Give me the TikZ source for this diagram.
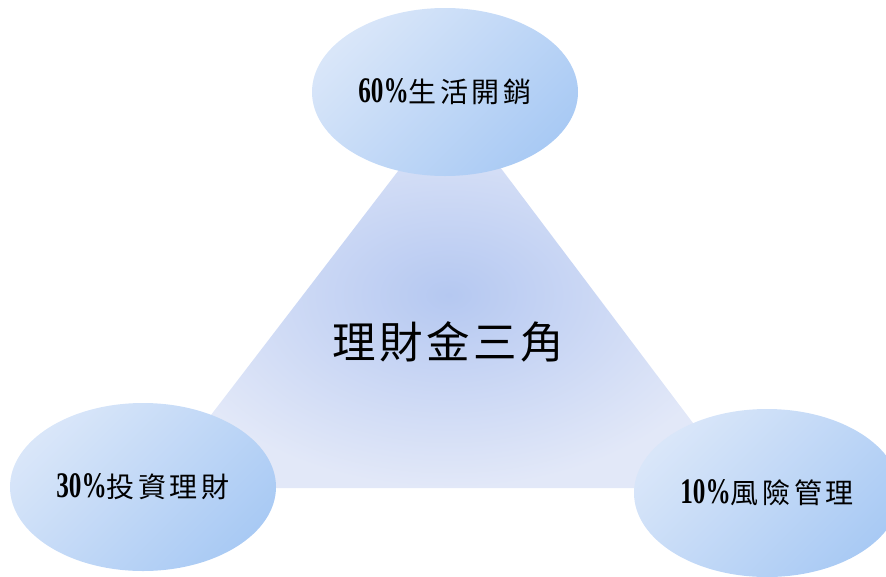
\documentclass[tikz,border=0pt]{standalone}
\usepackage{fontspec}
\newfontfamily\cjk{Noto Sans CJK TC}
\newfontfamily\numf[FakeStretch=0.7]{Liberation Serif}
\usetikzlibrary{shapes.geometric}
\definecolor{triin}{HTML}{B5C8F1}
\definecolor{triout}{HTML}{E2E8F8}
\definecolor{elllight}{HTML}{D9E6F9}
\definecolor{elldark}{HTML}{A9CAF4}
\pgfdeclareradialshading{tri}{\pgfpoint{0bp}{0bp}}{color(0bp)=(triin); color(25bp)=(triout); color(50bp)=(triout)}
\tikzset{
  bubble/.style={ellipse, minimum width=266pt, minimum height=168pt, inner sep=0pt,
    top color=elllight, bottom color=elldark, shading angle=45},
}
\newcommand{\pct}[1]{{\numf\bfseries\fontsize{36pt}{36pt}\selectfont #1}}
\newcommand{\zh}[1]{{\cjk\addfontfeature{LetterSpace=13}\fontsize{28pt}{30pt}\selectfont #1}}
\begin{document}
\begin{tikzpicture}[x=1pt,y=-1pt]
\useasboundingbox (0,0) rectangle (886,576);
\coordinate (A) at (451,102);
\coordinate (B) at (155,488);
\coordinate (C) at (742,488);
\shade[shading=tri] (A) -- (B) -- (C) -- cycle;
\node[font={\cjk\addfontfeature{LetterSpace=8}\fontsize{43.5pt}{44pt}\selectfont}] (title) at (448,342) {理財金三角};
\node[bubble] (top) at (445,92) {\pct{60\%}\zh{生活開銷}};
\node[bubble] (left) at (143,487) {\pct{30\%}\zh{投資理財}};
\node[bubble] (right) at (767,493) {\pct{10\%}\zh{風險管理}};
\end{tikzpicture}
\end{document}
